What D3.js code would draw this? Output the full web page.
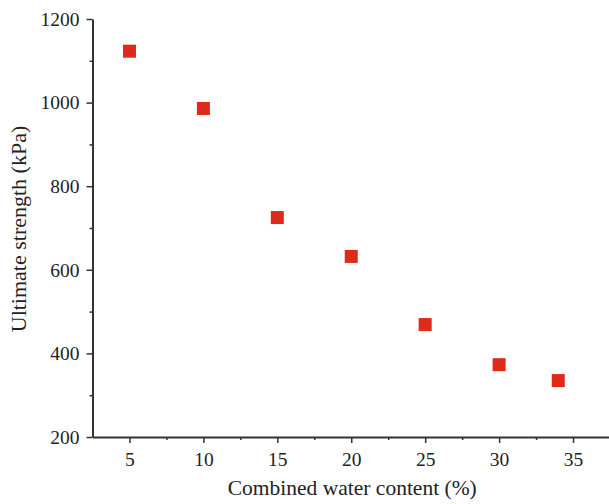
<!DOCTYPE html>
<html>
<head>
<meta charset="utf-8">
<script src="https://cdn.jsdelivr.net/npm/d3@7"></script>
<style>
  body { margin: 0; background: #fff; }
  svg text { font-family: "Liberation Serif", "Times New Roman", "DejaVu Serif", serif !important; fill: #222; }
</style>
</head>
<body>
<div id="chart"></div>
<script>
var waterContent = [5, 10, 15, 20, 25, 30, 34];
var strength = [1123, 986, 725, 632, 469, 373, 335];
var xTicks = [5, 10, 15, 20, 25, 30, 35];
var yTicks = [200, 400, 600, 800, 1000, 1200];

var margin = {top: 19, right: 0, bottom: 67, left: 92.5};
var totalW = 609, totalH = 504;
var width = totalW - margin.left - margin.right;
var height = totalH - margin.top - margin.bottom;

var svg = d3.select("#chart").append("svg")
    .attr("width", totalW)
    .attr("height", totalH)
  .append("g")
    .attr("transform", "translate(" + margin.left + "," + margin.top + ")");

var x = d3.scaleLinear().domain([2.5, 37.5]).range([0, width + 1]);
var y = d3.scaleLinear().domain([200, 1200]).range([height, 0]);

// minor ticks first
var xMinor = d3.range(2.5, 37.6, 2.5).filter(function(d){ return d % 5 != 0 && d > 2.5; });
var yMinor = d3.range(300, 1200, 200);

svg.append("g")
  .attr("transform", "translate(0," + height + ")")
  .call(d3.axisBottom(x).tickValues(xMinor).tickSize(3).tickFormat(""))
  .call(function(g){ g.select(".domain").remove(); });

svg.append("g")
  .call(d3.axisLeft(y).tickValues(yMinor).tickSize(3).tickFormat(""))
  .call(function(g){ g.select(".domain").remove(); });

var xAxis = svg.append("g")
  .attr("transform", "translate(0," + height + ")")
  .call(d3.axisBottom(x).tickValues(xTicks).tickSize(6).tickSizeOuter(0).tickPadding(9).tickFormat(d3.format("d")));

var yAxis = svg.append("g")
  .call(d3.axisLeft(y).tickValues(yTicks).tickSize(6).tickSizeOuter(0).tickPadding(7).tickFormat(d3.format("d")));

svg.selectAll("g").attr("font-family", null);
svg.selectAll(".tick line").attr("stroke", "#333").attr("stroke-width", 1.5);
svg.selectAll(".domain").attr("stroke", "#333").attr("stroke-width", 2);
svg.selectAll(".tick text")
  .style("font-size", "19.5px")
  .attr("fill", "#222");

svg.selectAll(".pt")
  .data(waterContent)
  .enter().append("rect")
  .attr("class", "pt")
  .attr("x", function(d) { return x(d) - 6.5; })
  .attr("y", function(d, i) { return y(strength[i]) - 6.5; })
  .attr("width", 13)
  .attr("height", 13)
  .style("fill", "#dd2a1b");

svg.append("text")
  .attr("text-anchor", "middle")
  .attr("x", x(20) + 1)
  .attr("y", height + 58)
  .style("font-size", "21.5px")
  .text("Combined water content (%)");

svg.append("text")
  .attr("text-anchor", "middle")
  .attr("transform", "translate(" + (-67) + "," + (y(700) + 1) + ") rotate(-90)")
  .style("font-size", "22px")
  .text("Ultimate strength (kPa)");
</script>
</body>
</html>
